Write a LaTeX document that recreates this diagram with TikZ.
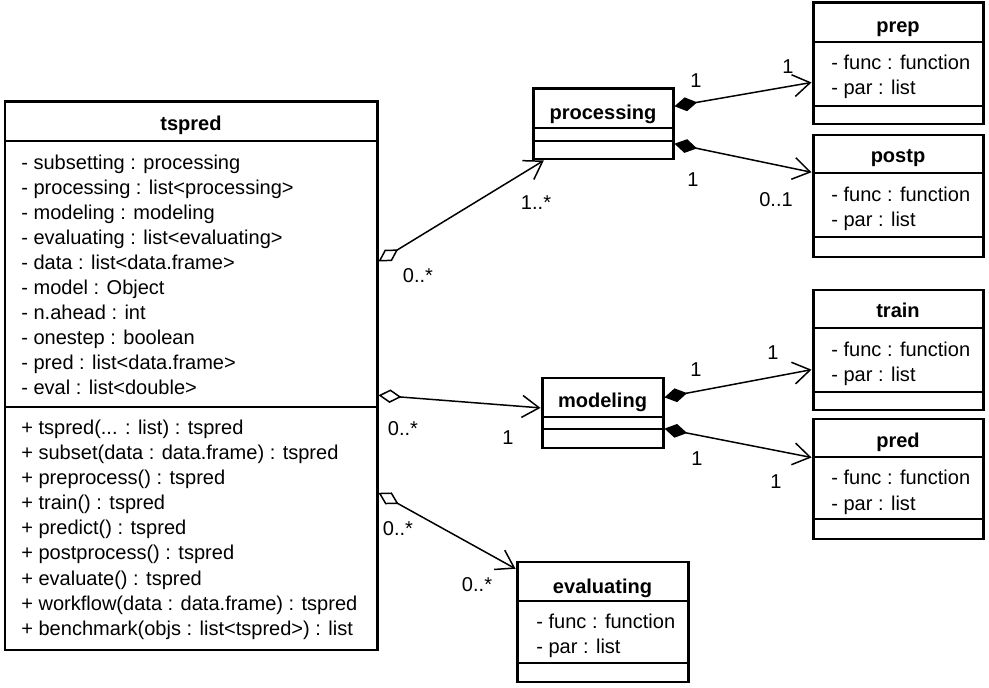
\documentclass[tikz,border=0pt]{standalone}
\usepackage{fontspec}
\setmainfont{Liberation Sans}
\usetikzlibrary{arrows.meta}
\usetikzlibrary{positioning}
\usetikzlibrary{fit}
\usetikzlibrary{calc}

\begin{document}
\begin{tikzpicture}[x=0.02cm,y=-0.02cm,
  classbox/.style={draw,line width=1.7pt,inner sep=0pt,fill=white},
  divline/.style={line width=0.75pt},
  clsname/.style={anchor=base,inner sep=0pt,font=\fontsize{11.4}{14.2}\selectfont\bfseries},
  members/.style={anchor=base west,align=left,inner sep=0pt,font=\fontsize{11.4}{14.23}\selectfont},
  mult/.style={inner sep=0pt,font=\fontsize{11.4}{14}\selectfont},
  aggr/.style={line width=0.85pt,{Diamond[open,length=0.46cm,width=0.27cm]}-{Straight Barb[length=0.34cm,width=0.44cm]}},
  comp/.style={line width=0.85pt,{Diamond[length=0.46cm,width=0.28cm]}-{Straight Barb[length=0.34cm,width=0.44cm]}}]
  \useasboundingbox (0,0) rectangle (989,688);
  % main class (members placed by their last baseline)
  \node[classbox,fit={(5,102) (377,650)}] (tspred) {};
  \draw[divline] (5,141) -- (377,141);
  \draw[divline] (5,407) -- (377,407);
  \node[clsname] (tspredname) at (191,131) {tspred};
  \node[members] (tspredattr) at (21,395) {- subsetting : processing\\- processing : list<processing>\\- modeling : modeling\\- evaluating : list<evaluating>\\- data : list<data.frame>\\- model : Object\\- n.ahead : int\\- onestep : boolean\\- pred : list<data.frame>\\- eval : list<double>};
  \node[members] (tspredops) at (21,635) {+ tspred(... : list) : tspred\\+ subset(data : data.frame) : tspred\\+ preprocess() : tspred\\+ train() : tspred\\+ predict() : tspred\\+ postprocess() : tspred\\+ evaluate() : tspred\\+ workflow(data : data.frame) : tspred\\+ benchmark(objs : list<tspred>) : list};
  % processing
  \node[classbox,fit={(533,89) (673,159)}] (processing) {};
  \draw[divline] (533,128) -- (673,128);
  \draw[divline] (533,141) -- (673,141);
  \node[clsname] (processingname) at (603,120) {processing};
  \node[classbox,fit={(813,3) (983,124)}] (prep) {};
  \draw[divline] (813,42) -- (983,42);
  \draw[divline] (813,106) -- (983,106);
  \node[clsname] (prepname) at (898,33) {prep};
  \node[members] (prepattr) at (831,95) {- func : function\\- par : list};
  \node[classbox,fit={(813,135) (983,257)}] (postp) {};
  \draw[divline] (813,173) -- (983,173);
  \draw[divline] (813,237) -- (983,237);
  \node[clsname] (postpname) at (898,163) {postp};
  \node[members] (postpattr) at (831,227) {- func : function\\- par : list};
  % modeling
  \node[classbox,fit={(542,378) (663,448)}] (modeling) {};
  \draw[divline] (542,417) -- (663,417);
  \draw[divline] (542,429) -- (663,429);
  \node[clsname] (modelingname) at (602.5,408) {modeling};
  \node[classbox,fit={(813,290) (983,410)}] (train) {};
  \draw[divline] (813,328) -- (983,328);
  \draw[divline] (813,392) -- (983,392);
  \node[clsname] (trainname) at (898,318) {train};
  \node[members] (trainattr) at (831,382) {- func : function\\- par : list};
  \node[classbox,fit={(813,419) (983,539)}] (pred) {};
  \draw[divline] (813,457) -- (983,457);
  \draw[divline] (813,519) -- (983,519);
  \node[clsname] (predname) at (898,447) {pred};
  \node[members] (predattr) at (831,510) {- func : function\\- par : list};
  % evaluating
  \node[classbox,fit={(517,562) (688,682)}] (evaluating) {};
  \draw[divline] (517,601) -- (688,601);
  \draw[divline] (517,663) -- (688,663);
  \node[clsname] (evaluatingname) at (602.5,593) {evaluating};
  \node[members] (evaluatingattr) at (536,653) {- func : function\\- par : list};
  % associations
  \draw[aggr] ($(tspred.north east)!0.292!(tspred.south east)$) -- ($(processing.south west)!0.086!(processing.south east)$);
  \draw[comp] ($(processing.north east)!0.257!(processing.south east)$) -- ($(prep.north west)!0.653!(prep.south west)$);
  \draw[comp] ($(processing.north east)!0.77!(processing.south east)$) -- ($(postp.north west)!0.31!(postp.south west)$);
  \draw[aggr] ($(tspred.north east)!0.535!(tspred.south east)$) -- ($(modeling.north west)!0.43!(modeling.south west)$);
  \draw[comp] ($(modeling.north east)!0.286!(modeling.south east)$) -- ($(train.north west)!0.66!(train.south west)$);
  \draw[comp] ($(modeling.north east)!0.714!(modeling.south east)$) -- ($(pred.north west)!0.325!(pred.south west)$);
  \draw[aggr] ($(tspred.north east)!0.712!(tspred.south east)$) -- ($(evaluating.north west)!0.067!(evaluating.south west)$);
  % multiplicities
  \node[mult] (m1) at (418,276) {0..*};
  \node[mult] (m2) at (536,203) {1..*};
  \node[mult] (m3) at (696,81) {1};
  \node[mult] (m4) at (788,67) {1};
  \node[mult] (m5) at (693,180) {1};
  \node[mult] (m6) at (776,200) {0..1};
  \node[mult] (m7) at (403,429) {0..*};
  \node[mult] (m8) at (508,438) {1};
  \node[mult] (m9) at (696,370) {1};
  \node[mult] (m10) at (773,353) {1};
  \node[mult] (m11) at (697,459) {1};
  \node[mult] (m12) at (776,482) {1};
  \node[mult] (m13) at (398,529) {0..*};
  \node[mult] (m14) at (477,585) {0..*};
\end{tikzpicture}
\end{document}
